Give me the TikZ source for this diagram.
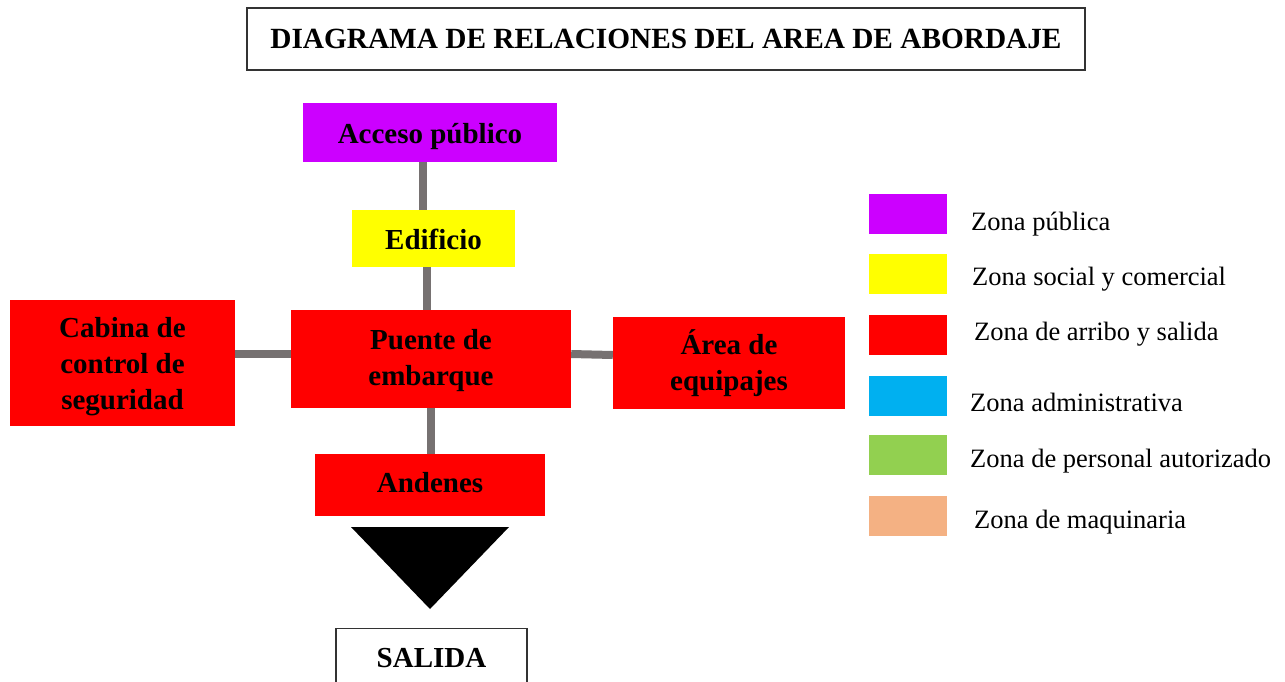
\documentclass[tikz,border=0pt]{standalone}
\usepackage{fontspec}
\setmainfont{Liberation Serif}
\definecolor{zpub}{HTML}{CC00FF}
\definecolor{zsoc}{HTML}{FFFF00}
\definecolor{zarr}{HTML}{FF0000}
\definecolor{zadm}{HTML}{00B0F0}
\definecolor{zper}{HTML}{92D050}
\definecolor{zmaq}{HTML}{F4B183}
\definecolor{conn}{HTML}{767171}
\begin{document}
\begin{tikzpicture}[x=1pt,y=-1pt,
  zbox/.style={draw=none,inner sep=0pt},
  ztext/.style={inner sep=0pt,align=center,font=\bfseries\fontsize{29}{36}\selectfont},
  wbox/.style={draw=black!80,line width=1.3pt,fill=white,inner sep=0pt,align=center},
  link/.style={conn,line width=8pt},
  swatch/.style={minimum width=78pt,minimum height=40pt,inner sep=0pt},
  ltext/.style={anchor=west,inner sep=0pt,font=\fontsize{26.5}{30}\selectfont}]
\useasboundingbox (0,0) rectangle (1285,681);
\fill[white] (0,0) rectangle (1285,681);
% title
\node[wbox,minimum width=838pt,minimum height=62pt,font=\bfseries\fontsize{29.3}{33}\selectfont] (title) at (666,39) {DIAGRAMA DE RELACIONES DEL AREA DE ABORDAJE};
% nodes
\node[zbox,fill=zpub,minimum width=254pt,minimum height=59pt,label={[ztext,yshift=-4pt]center:Acceso público}] (acc) at (430,132.5) {};
\node[zbox,fill=zsoc,minimum width=163pt,minimum height=57pt,label={[ztext,yshift=-1pt]center:Edificio}] (edi) at (433.5,238.5) {};
\node[zbox,fill=zarr,minimum width=280pt,minimum height=98pt,label={[ztext,yshift=-2pt]center:Puente de\\embarque}] (pue) at (431,359) {};
\node[zbox,fill=zarr,minimum width=225pt,minimum height=126pt,label={[ztext,yshift=-4pt]center:Cabina de\\control de\\seguridad}] (cab) at (122.5,363) {};
\node[zbox,fill=zarr,minimum width=232pt,minimum height=92pt,label={[ztext]center:Área de\\equipajes}] (are) at (729,363) {};
\node[zbox,fill=zarr,minimum width=230pt,minimum height=62pt,label={[ztext,yshift=2pt]center:Andenes}] (and) at (430,485) {};
\node[wbox,minimum width=191pt,minimum height=70pt,anchor=north,label={[ztext,yshift=6pt]center:SALIDA}] (sal) at (431.5,628) {};
% connectors
\draw[link] ([xshift=-7pt]acc.south) -- ([xshift=-10.5pt]edi.north);
\draw[link] ([xshift=-6.5pt]edi.south) -- ([xshift=-4pt]pue.north);
\draw[link] (cab.east |- 0,354) -- (pue.west |- 0,354);
\draw[link] (pue.east |- 0,354) -- (are.west |- 0,355);
\draw[link] (pue.south) -- ([xshift=1pt]and.north);
% triangle
\fill[black] (351,527) -- (509,527) -- (430,609) -- cycle;
% legend
\node[swatch,fill=zpub] (s1) at (908,214) {};
\node[swatch,fill=zsoc] (s2) at (908,274) {};
\node[swatch,fill=zarr] (s3) at (908,335) {};
\node[swatch,fill=zadm] (s4) at (908,396) {};
\node[swatch,fill=zper] (s5) at (908,455) {};
\node[swatch,fill=zmaq] (s6) at (908,516) {};
\node[ltext] (l1) at (971,224) {Zona pública};
\node[ltext] (l2) at (972,279) {Zona social y comercial};
\node[ltext] (l3) at (974,334) {Zona de arribo y salida};
\node[ltext] (l4) at (970,402) {Zona administrativa};
\node[ltext] (l5) at (970,461) {Zona de personal autorizado};
\node[ltext] (l6) at (974,522) {Zona de maquinaria};
\end{tikzpicture}
\end{document}
